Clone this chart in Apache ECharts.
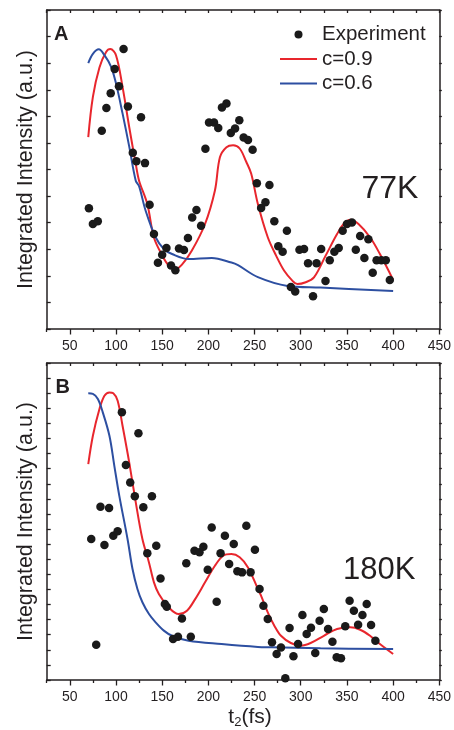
<!DOCTYPE html>
<html>
<head>
<meta charset="utf-8">
<script src="https://cdn.jsdelivr.net/npm/echarts@6/dist/echarts.min.js"></script>
<style>html,body{margin:0;padding:0;background:#fff}#c{width:454px;height:730px}</style>
</head>
<body>
<div id="c"></div>
<script>
// ---------- data ----------
var xMajorTicks = [50, 100, 150, 200, 250, 300, 350, 400, 450];
var xMinorTicks = [25, 75, 125, 175, 225, 275, 325, 375, 425];
var xAllTicks = [25, 50, 75, 100, 125, 150, 175, 200, 225, 250, 275, 300, 325, 350, 375, 400, 425, 450];

// Panel A (77K)
var expA = [[70.7,4.54],[75,3.95],[80.3,4.05],[84.6,7.46],[89.6,8.31],[94.3,8.87],[98.6,9.78],[103.2,9.13],[108.2,10.53],[112.9,8.37],[118.2,6.63],[122.1,6.31],[127.1,7.97],[131.4,6.24],[136.4,4.67],[141.1,3.57],[145.4,2.49],[150,2.79],[154.6,3.05],[159.6,2.39],[164.3,2.21],[168.2,3.03],[173.6,2.97],[177.9,3.42],[182.5,4.19],[187.1,4.48],[192.1,3.88],[196.8,6.78],[200.7,7.77],[206.1,7.77],[210.7,7.56],[214.7,8.33],[219.6,8.48],[224.3,7.37],[228.9,7.54],[233.5,7.85],[238.2,7.20],[242.9,7.11],[247.9,6.74],[252.5,5.48],[257.1,4.55],[261.8,4.77],[266.1,5.42],[271.4,4.05],[275.7,3.11],[280.4,2.91],[285,3.70],[289.3,1.58],[294,1.41],[298.6,2.98],[303.6,3.01],[307.9,2.47],[313.3,1.23],[317.1,2.47],[322.1,3.01],[326.8,1.81],[331.4,2.59],[336.4,2.91],[341.1,3.05],[345.4,3.70],[350,3.95],[355.4,4.01],[359.6,2.98],[364.3,3.50],[368.9,2.67],[373.2,3.38],[377.9,2.12],[382.1,2.59],[387.3,2.59],[392.1,2.59],[396.4,1.84]];
var fitA09 = [[70,7.22],[75,8.73],[82.1,9.84],[89.3,10.42],[93.9,10.53],[100,10.30],[107.1,9.11],[114.3,7.60],[121.4,6.21],[125,5.58],[133.9,4.70],[141,3.45],[150,2.77],[157.1,2.39],[164.3,2.25],[171.4,2.42],[182,2.94],[196.4,3.95],[207.1,5.21],[212.5,6.46],[219.6,6.84],[226.8,6.91],[233.9,6.79],[241,6.29],[246.4,5.84],[253.6,4.70],[264.3,3.45],[273.2,2.77],[282.1,2.19],[291.1,1.81],[296.4,1.69],[305.4,1.76],[314.3,1.94],[326.8,2.75],[339.3,3.57],[346.4,3.95],[353.6,4.11],[362.5,3.95],[375,3.45],[385.7,2.82],[400,1.85]];
var fitA06 = [[70,10.0],[75,10.35],[81.4,10.52],[87.5,10.30],[94.6,9.87],[100,9.24],[107.1,8.11],[114.3,6.87],[121.4,5.58],[125,5.37],[132.1,4.45],[142.9,3.45],[151.8,3.01],[160.7,2.82],[178.6,2.63],[203.6,2.67],[225,2.50],[232.1,2.40],[253.6,1.95],[285.7,1.62],[321.4,1.56],[400,1.43]];

// Panel B (180K)
var expB = [[73.2,9.34],[78.6,2.34],[83.2,11.48],[87.5,8.94],[92.5,11.39],[97.1,9.56],[101.8,9.85],[106.4,17.73],[110.7,14.24],[115.4,13.09],[120.4,12.17],[124.3,16.34],[129.6,11.44],[133.9,8.39],[138.9,12.17],[143.6,8.89],[148.2,6.73],[152.9,5.03],[155,4.85],[161.8,2.72],[167.1,2.87],[171.4,4.08],[176.1,7.73],[181,2.87],[185,8.56],[190.4,8.46],[194.6,8.83],[199.3,7.30],[203.6,10.11],[209,5.19],[213.2,8.39],[217.9,9.56],[222.5,7.68],[227.5,9.01],[231.4,7.20],[236.4,7.13],[241.1,10.22],[245.7,7.13],[250.4,8.63],[255.4,6.03],[259.6,4.92],[264.3,4.04],[268.9,2.50],[273.9,1.72],[278.6,2.16],[283.3,0.11],[287.9,3.44],[292.1,1.57],[297.1,2.38],[301.8,4.30],[306.4,3.05],[311.1,3.46],[315.7,1.79],[320.4,3.93],[325,4.70],[329.6,3.38],[334.3,2.54],[338.9,1.50],[343.6,1.44],[348.2,3.56],[352.9,5.25],[357.5,4.59],[362.1,3.66],[366.8,4.30],[371.4,5.03],[376.1,3.64],[380.8,2.60]];
var fitB09 = [[70,14.3],[75,16.18],[82.1,17.95],[87.5,18.83],[92.9,19.05],[97.1,19.0],[101.8,18.5],[107.1,16.84],[114.3,14.42],[121.4,11.77],[128.6,9.34],[135.7,7.79],[141.1,6.47],[146.4,5.70],[157.1,4.81],[167.9,4.37],[176.8,4.59],[185.7,5.36],[196.4,6.47],[207.1,7.57],[216.1,8.23],[225,8.34],[233.9,8.13],[242.9,7.46],[253.6,6.03],[257.1,5.58],[264.3,4.48],[271.4,3.60],[278.6,2.93],[289.3,2.45],[300,2.27],[310.7,2.45],[325,2.93],[339.3,3.38],[353.6,3.49],[364.3,3.33],[375,2.93],[385.7,2.38],[400,1.72]];
var fitB06 = [[70,18.99],[75,18.95],[80.4,18.61],[85.7,17.73],[92.9,16.18],[98.2,14.19],[103.6,12.2],[112.5,9.34],[117.9,7.35],[123.2,6.03],[128.6,5.15],[135.7,4.37],[142.9,3.82],[151.8,3.27],[160.7,2.93],[178.6,2.60],[214.3,2.38],[253.6,2.19],[267.9,2.17],[321.4,2.10],[400,2.05]];

// ---------- chart ----------
var FONT = '"Liberation Sans", Arial, Helvetica, sans-serif';
var AX = '#231f20';
var RED = '#e8262d';
var BLUE = '#2d4fa1';
var LINE_ICON = 'path://M0,0 L37,0 L37,2 L0,2 Z';

function xAxes(gridIndex, withName) {
  var base = { type: 'value', gridIndex: gridIndex, min: 25, max: 450, interval: 25, splitLine: { show: false } };
  var main = Object.assign({}, base, {
    position: 'bottom',
    axisLine: { show: true, lineStyle: { color: AX, width: 1.5 } },
    axisTick: { show: true, inside: false, length: 5.5, customValues: xMajorTicks, lineStyle: { color: AX, width: 1.3 } },
    axisLabel: { show: true, customValues: xMajorTicks, margin: 10, fontSize: 14, color: '#231f20', fontFamily: FONT }
  });
  if (withName) {
    main.name = '{a|t}{b|2}{a|(fs)}';
    main.nameLocation = 'middle';
    main.nameGap = 25;
    main.nameTextStyle = {
      fontFamily: FONT, color: '#231f20', padding: [0, 0, 0, 14],
      rich: {
        a: { fontSize: 21, fontFamily: FONT, color: '#231f20', lineHeight: 24 },
        b: { fontSize: 13, fontFamily: FONT, color: '#231f20', lineHeight: 14, verticalAlign: 'bottom' }
      }
    };
  }
  var minor = Object.assign({}, base, {
    position: 'bottom',
    axisLine: { show: false },
    axisTick: { show: true, inside: false, length: 3, customValues: xMinorTicks, lineStyle: { color: AX, width: 1.3 } },
    axisLabel: { show: false }
  });
  var top = Object.assign({}, base, {
    position: 'top',
    axisLine: { show: true, lineStyle: { color: AX, width: 1.5 } },
    axisTick: { show: true, inside: true, length: 3, customValues: xAllTicks, lineStyle: { color: AX, width: 1.3 } },
    axisLabel: { show: false }
  });
  return [main, minor, top];
}

function yAxes(gridIndex, maxV) {
  var base = { type: 'value', gridIndex: gridIndex, min: 0, max: maxV, interval: 1, splitLine: { show: false } };
  var left = Object.assign({}, base, {
    position: 'left',
    axisLine: { show: true, lineStyle: { color: AX, width: 1.5 } },
    axisTick: { show: true, inside: true, length: 4, lineStyle: { color: AX, width: 1.3 } },
    axisLabel: { show: false },
    name: 'Integrated Intensity (a.u.)',
    nameLocation: 'middle',
    nameGap: 10,
    nameTextStyle: { fontFamily: FONT, fontSize: 21.5, color: '#231f20' }
  });
  var right = Object.assign({}, base, {
    position: 'right',
    axisLine: { show: true, lineStyle: { color: AX, width: 1.5 } },
    axisTick: { show: true, inside: false, length: 2.5, lineStyle: { color: AX, width: 1.3 } },
    axisLabel: { show: false }
  });
  return [left, right];
}

var chart = echarts.init(document.getElementById('c'), null, { renderer: 'canvas' });

var xa = xAxes(0, false).concat(xAxes(1, true));
var ya = yAxes(0, 12).concat(yAxes(1, 21));

function scatter(data, xi, yi) {
  return { type: 'scatter', name: 'Experiment', data: data, xAxisIndex: xi, yAxisIndex: yi,
    symbol: 'circle', symbolSize: 8.5, itemStyle: { color: '#1a1a1a', opacity: 1 }, z: 3 };
}
function line(name, data, color, xi, yi) {
  return { type: 'line', name: name, data: data, xAxisIndex: xi, yAxisIndex: yi,
    smooth: 0.35, symbol: 'none', showSymbol: false,
    lineStyle: { color: color, width: 2 }, itemStyle: { color: color }, z: 2 };
}

chart.setOption({
  animation: false,
  backgroundColor: '#fff',
  textStyle: { fontFamily: FONT },
  grid: [
    { left: 46.7, top: 10, width: 395, height: 319 },
    { left: 46.7, top: 363, width: 395, height: 318 }
  ],
  xAxis: xa,
  yAxis: ya,
  legend: {
    orient: 'vertical',
    left: 280,
    top: 24,
    padding: 0,
    itemWidth: 37,
    itemHeight: 8,
    itemGap: 3.5,
    textStyle: { fontSize: 20.5, color: '#231f20', fontFamily: FONT, lineHeight: 20 },
    data: [
      { name: 'Experiment', icon: 'circle' },
      { name: 'c=0.9', icon: LINE_ICON, itemStyle: { color: RED } },
      { name: 'c=0.6', icon: LINE_ICON, itemStyle: { color: BLUE } }
    ]
  },
  graphic: [
    { type: 'text', left: 54, top: 24, style: { text: 'A', font: 'bold 20px ' + FONT, fill: '#231f20' } },
    { type: 'text', left: 55.5, top: 377, style: { text: 'B', font: 'bold 20px ' + FONT, fill: '#231f20' } },
    { type: 'text', left: 361.5, top: 173, style: { text: '77K', font: '32px ' + FONT, fill: '#231f20' } },
    { type: 'text', left: 343, top: 555, style: { text: '180K', font: '31px ' + FONT, fill: '#231f20' } }
  ],
  series: [
    scatter(expA, 0, 0),
    line('c=0.9', fitA09, RED, 0, 0),
    line('c=0.6', fitA06, BLUE, 0, 0),
    scatter(expB, 3, 2),
    line('c=0.9', fitB09, RED, 3, 2),
    line('c=0.6', fitB06, BLUE, 3, 2)
  ]
});
</script>
</body>
</html>
